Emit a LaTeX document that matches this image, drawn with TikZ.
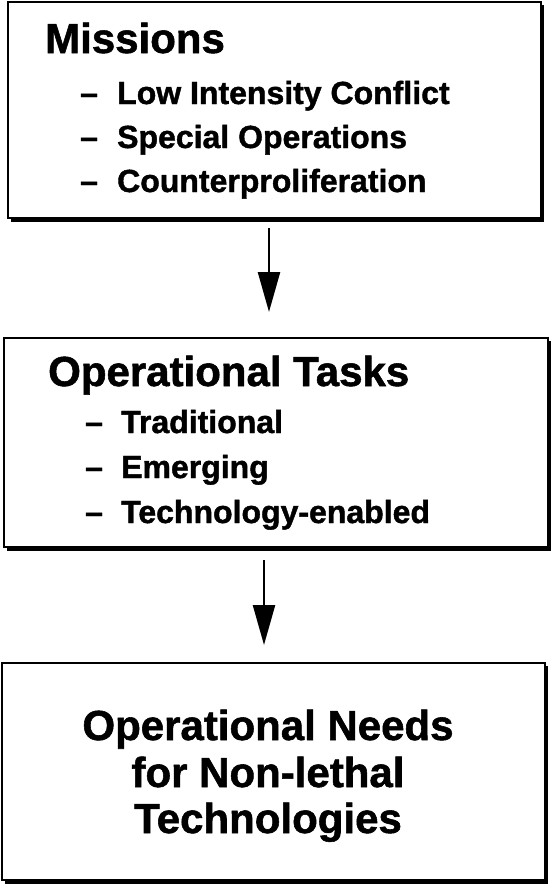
\documentclass[tikz,border=0pt]{standalone}
\usepackage{fontspec}
\setmainfont{Liberation Sans}
\newfontfamily\heavy[FakeBold=1.3]{Liberation Sans Bold}
\usetikzlibrary{arrows.meta}
\begin{document}
\begin{tikzpicture}[x=1pt,y=-1pt,
  box/.style={draw=black,line width=1.8pt,fill=white},
  shadow/.style={fill=black},
  title/.style={anchor=base west,inner sep=0pt,font=\heavy\fontsize{42}{48}\selectfont},
  item/.style={anchor=base west,inner sep=0pt,font=\heavy\fontsize{32}{38}\selectfont},
  center3/.style={anchor=base,inner sep=0pt,font=\heavy\fontsize{42}{48}\selectfont},
  flow/.style={line width=2.4pt,-{Triangle[width=22pt,length=40pt]}}]
\useasboundingbox (0,0) rectangle (556,886);
\fill[white] (0,0) rectangle (556,886);
% Box 1
\fill[shadow] (11,5) rectangle (544,222);
\draw[box] (8,2) rectangle (541,218);
\node[title] (t1) at (45,53) {Missions};
\node[item] (d11) at (80,104) {–};
\node[item] (i11) at (117,104) {Low Intensity Conflict};
\node[item] (d12) at (80,148) {–};
\node[item] (i12) at (117,148) {Special Operations};
\node[item] (d13) at (80,192) {–};
\node[item] (i13) at (117,192) {Counterproliferation};
% Box 2
\fill[shadow] (7,341) rectangle (551,551);
\draw[box] (4,338) rectangle (548,547);
\node[title] (t2) at (48,386) {Operational Tasks};
\node[item] (d21) at (85,433) {–};
\node[item] (i21) at (121,433) {Traditional};
\node[item] (d22) at (85,478) {–};
\node[item] (i22) at (121,478) {Emerging};
\node[item] (d23) at (85,523) {–};
\node[item] (i23) at (121,523) {Technology-enabled};
% Box 3
\fill[shadow] (5,666) rectangle (548,884);
\draw[box] (2,663) rectangle (545,880);
\node[center3] (l31) at (268,740) {Operational Needs};
\node[center3] (l32) at (268,787) {for Non-lethal};
\node[center3] (l33) at (268,833) {Technologies};
% arrows
\coordinate (a1s) at (269,228);
\coordinate (a1e) at (269,312);
\coordinate (a2s) at (264,560);
\coordinate (a2e) at (264,645);
\draw[flow] (a1s) -- (a1e);
\draw[flow] (a2s) -- (a2e);
\end{tikzpicture}
\end{document}
